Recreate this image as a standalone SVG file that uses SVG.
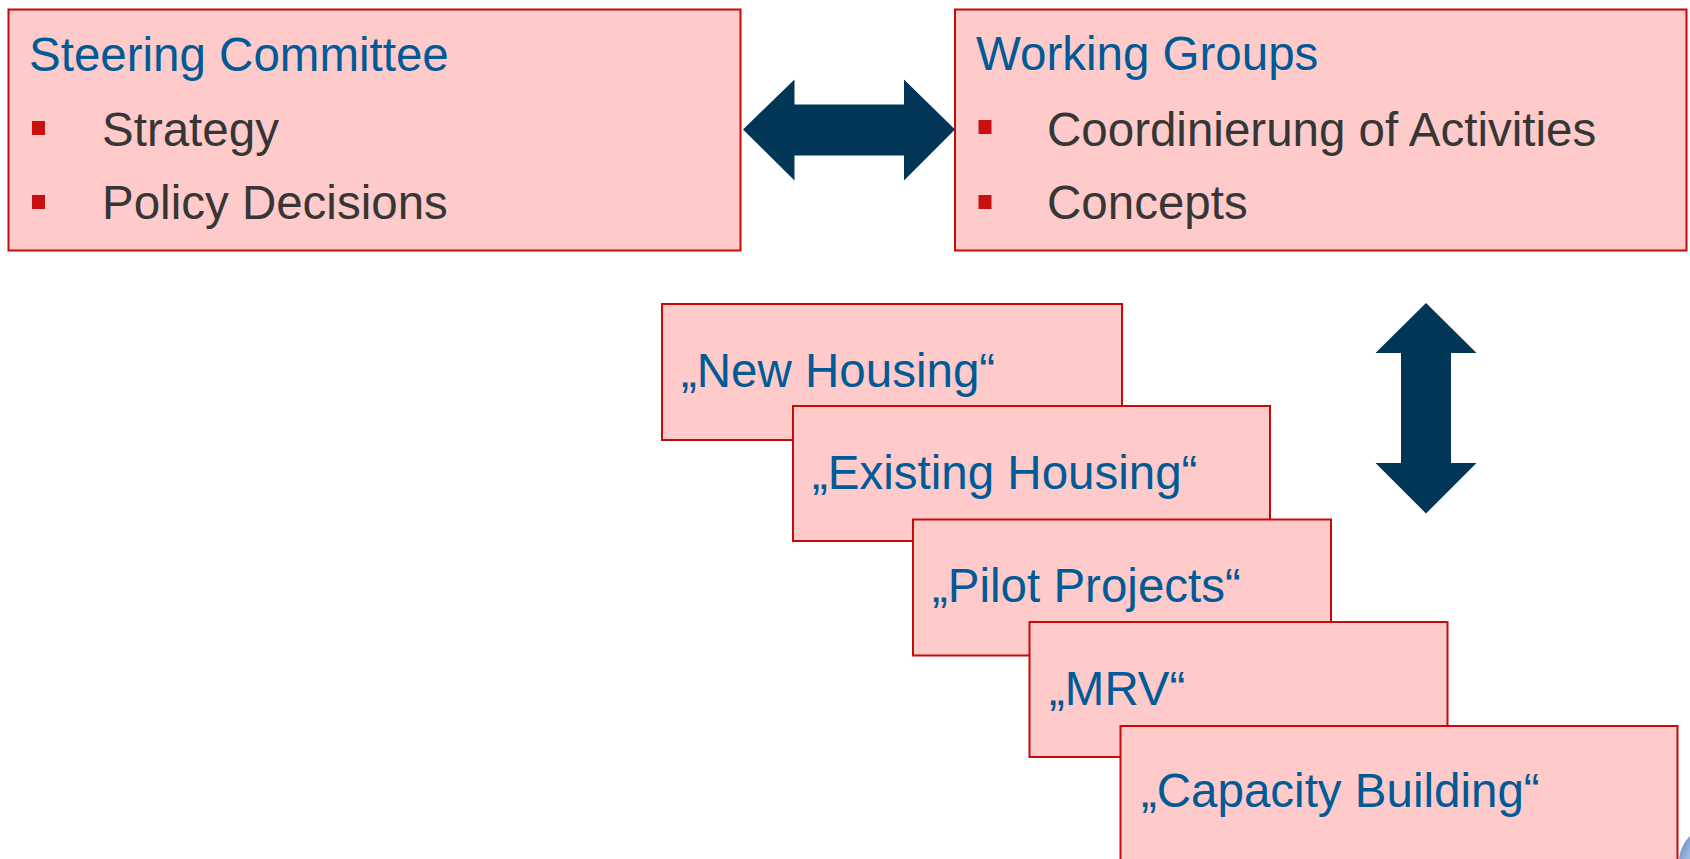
<svg xmlns="http://www.w3.org/2000/svg" width="1690" height="859" viewBox="0 0 1690 859">
  <style>
    .box { fill: #FECACA; stroke: #C50A0A; stroke-width: 2; }
    .title { font-family: "Liberation Sans", Arial, sans-serif; font-size: 47.5px; fill: #005A96; }
    .item { font-family: "Liberation Sans", Arial, sans-serif; font-size: 47.5px; fill: #363636; }
    .bullet { fill: #C81010; }
    .arrow { fill: #023657; }
  </style>
  <defs>
    <linearGradient id="cornerFill" x1="0" y1="0" x2="1" y2="1">
      <stop offset="0" stop-color="#5B7FC0"/>
      <stop offset="1" stop-color="#A9C0E6"/>
    </linearGradient>
  </defs>

  <rect width="1690" height="859" fill="#FFFFFF"/>

  <!-- Steering Committee -->
  <g id="steering-committee">
    <rect class="box" x="8.5" y="9.5" width="732" height="241"/>
    <text class="title" x="29" y="71">Steering Committee</text>
    <rect class="bullet" x="32" y="121" width="13" height="14"/>
    <text class="item" x="102" y="145.5">Strategy</text>
    <rect class="bullet" x="32" y="195" width="13" height="14"/>
    <text class="item" x="102" y="218.5">Policy Decisions</text>
  </g>

  <!-- Working Groups -->
  <g id="working-groups">
    <rect class="box" x="955" y="9.5" width="731.5" height="241"/>
    <text class="title" x="976" y="70">Working Groups</text>
    <rect class="bullet" x="978.5" y="120" width="13" height="14"/>
    <text class="item" x="1047" y="145.5">Coordinierung of Activities</text>
    <rect class="bullet" x="978.5" y="195" width="13" height="14"/>
    <text class="item" x="1047" y="218.5">Concepts</text>
  </g>

  <!-- Stacked work streams -->
  <g id="new-housing">
    <rect class="box" x="662" y="304" width="460" height="136"/>
    <text class="title" x="681" y="387">„New Housing“</text>
  </g>
  <g id="existing-housing">
    <rect class="box" x="793" y="406" width="477" height="135"/>
    <text class="title" x="812" y="489">„Existing Housing“</text>
  </g>
  <g id="pilot-projects">
    <rect class="box" x="913" y="519.5" width="418" height="136"/>
    <text class="title" x="932" y="602">„Pilot Projects“</text>
  </g>
  <g id="mrv">
    <rect class="box" x="1029.5" y="622" width="418" height="135"/>
    <text class="title" x="1049" y="705">„MRV“</text>
  </g>
  <g id="capacity-building">
    <rect class="box" x="1120.5" y="726" width="557" height="150"/>
    <text class="title" x="1141" y="807">„Capacity Building“</text>
  </g>

  <!-- Connectors: double-headed block arrows -->
  <g id="connectors">
    <polygon class="arrow" points="743,129.5 794.5,79.5 794.5,104.5 904,104.5 904,79.5 955,129.5 904,180.5 904,155.5 794.5,155.5 794.5,180.5"/>
    <polygon class="arrow" points="1426,303 1476.5,353 1451,353 1451,463 1476.5,463 1426,513.5 1375.5,463 1401,463 1401,353 1375.5,353"/>
  </g>

  <!-- Edge of a graphic at the lower right corner -->
  <path d="M1679,859 C1680,850 1684,842 1690,836 L1690,859 Z" fill="url(#cornerFill)"/>
</svg>
